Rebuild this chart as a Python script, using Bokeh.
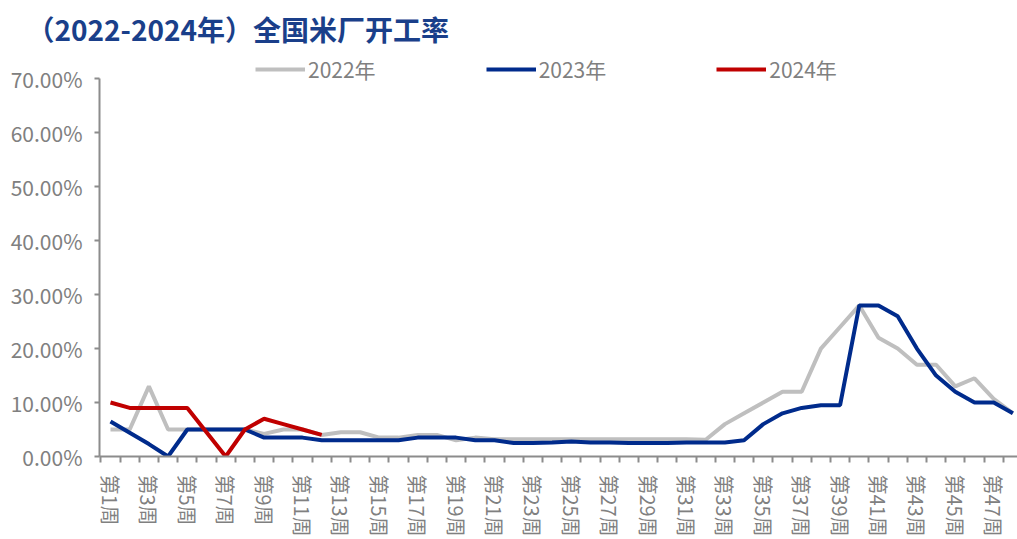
from bokeh.plotting import figure
from bokeh.models import Range1d, FixedTicker, PrintfTickFormatter, Legend, LegendItem
from bokeh.embed import file_html
from bokeh.resources import INLINE

weeks = list(range(1, 49))
week_labels = ["第%d周" % w for w in weeks]

rate_2022 = [5, 5, 13, 5, 5, 5, 5, 5, 4.2, 5, 5, 4, 4.5, 4.5, 3.5, 3.5, 4, 4, 3, 3.5,
             3.2, 3.2, 3.2, 3.2, 3.2, 3.2, 3.2, 3.2, 3.2, 3.2, 3.2, 3.1, 6, 8, 10, 12, 12, 20,
             24, 28, 22, 20, 17, 17, 13, 14.5, 10.7, 8]
rate_2023 = [6.5, 4.4, 2.3, 0, 5, 5, 5, 5, 3.5, 3.5, 3.5, 3, 3, 3, 3, 3, 3.5, 3.5, 3.5, 3,
             3, 2.5, 2.5, 2.6, 2.8, 2.6, 2.6, 2.5, 2.5, 2.5, 2.6, 2.6, 2.6, 3, 6, 8, 9, 9.5,
             9.5, 28, 28, 26, 20, 15, 12, 10, 10, 8]
rate_2024 = [10, 9, 9, 9, 9, 4.5, 0, 5, 7, 6, 5, 4]

y_ticks = [0, 10, 20, 30, 40, 50, 60, 70]

FONT = "Noto Sans CJK SC"
GREY_TXT = "#808080"
AXIS_C = "#8c8c8c"

p = figure(width=1017, height=539, output_backend="svg", toolbar_location=None,
           x_range=Range1d(0.427, 48.24), y_range=Range1d(0, 74.5),
           min_border_left=99, min_border_right=0, min_border_top=54, min_border_bottom=0,
           title="（2022-2024年）全国米厂开工率")
p.outline_line_color = None
p.xgrid.visible = False
p.ygrid.visible = False
p.background_fill_color = "white"

p.title.text_font = FONT
p.title.text_font_size = "28px"
p.title.text_font_style = "bold"
p.title.text_color = "#1a3f8a"
p.title.align = "left"
p.title.vertical_align = "middle"
p.title.offset = -73
p.title.standoff = 10

r22 = p.line(weeks, rate_2022, line_color="#bfbfbf", line_width=4)
r23 = p.line(weeks, rate_2023, line_color="#002b8c", line_width=4)
r24 = p.line(weeks[:len(rate_2024)], rate_2024, line_color="#c00000", line_width=4)

# y axis
ya = p.yaxis[0]
ya.ticker = FixedTicker(ticks=y_ticks, minor_ticks=[])
ya.bounds = (0, 70)
ya.formatter = PrintfTickFormatter(format="%.2f%%")
ya.axis_line_color = AXIS_C
ya.axis_line_width = 2
ya.major_tick_line_color = AXIS_C
ya.major_tick_line_width = 2
ya.major_tick_out = 5
ya.major_tick_in = 0
ya.minor_tick_line_color = None
ya.major_label_standoff = 12
ya.major_label_text_font = FONT
ya.major_label_text_font_size = "21px"
ya.major_label_text_color = GREY_TXT

# x axis
xa = p.xaxis[0]
xa.ticker = FixedTicker(ticks=weeks[0::2], minor_ticks=[w - 0.5 for w in weeks])
xa.major_label_overrides = {w: week_labels[w - 1] for w in weeks[0::2]}
xa.axis_line_color = AXIS_C
xa.axis_line_width = 2
xa.major_tick_line_color = None
xa.major_tick_out = 0
xa.major_tick_in = 0
xa.minor_tick_line_color = AXIS_C
xa.minor_tick_line_width = 2
xa.minor_tick_out = 6
xa.minor_tick_in = 0
xa.major_label_orientation = "vertical"
xa.major_label_standoff = 12
xa.major_label_text_font = FONT
xa.major_label_text_font_size = "20px"
xa.major_label_text_color = GREY_TXT

legend = Legend(items=[LegendItem(label="2022年", renderers=[r22]),
                       LegendItem(label="2023年", renderers=[r23]),
                       LegendItem(label="2024年", renderers=[r24])],
                orientation="horizontal", location=(156, 372),
                glyph_width=50, glyph_height=20, label_standoff=3, spacing=110,
                label_text_font=FONT, label_text_font_size="21px",
                label_text_color=GREY_TXT, border_line_color=None,
                background_fill_alpha=0, padding=0, margin=0)
p.add_layout(legend, "center")

open("out.html", "w").write(file_html(p, INLINE))
